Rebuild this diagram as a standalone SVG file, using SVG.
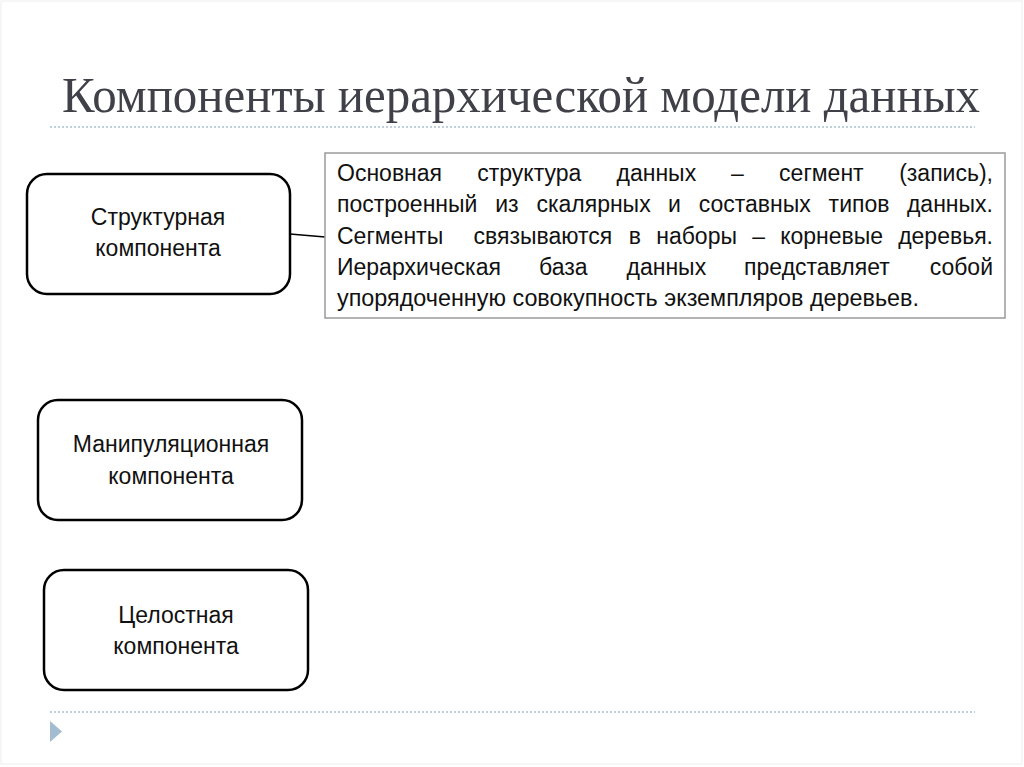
<svg xmlns="http://www.w3.org/2000/svg" width="1024" height="767" viewBox="0 0 1024 767">
<style>
.title{font-family:"Liberation Serif",serif;font-size:51px;fill:#404048}
.node rect{fill:#fff;stroke:#000;stroke-width:2.5}
.lbl{font-family:"Liberation Sans",Arial,sans-serif;font-size:23px;fill:#111;text-anchor:middle}
.body{font-family:"Liberation Sans",Arial,sans-serif;font-size:23px;fill:#111}
.end{text-anchor:end}
.dots{stroke:#a9c0d2;stroke-width:1.5;stroke-dasharray:2 2;fill:none}
</style>
<rect x="0" y="0" width="1024" height="767" fill="#fff"/>
<rect x="1" y="1" width="1021" height="763" fill="none" stroke="#eeeeee" stroke-width="1"/>
<text class="title" x="62" y="112" textLength="918" lengthAdjust="spacingAndGlyphs">Компоненты иерархической модели данных</text>
<line class="dots" x1="50" y1="127" x2="975" y2="127"/>
<line class="dots" x1="50" y1="712" x2="975" y2="712"/>
<polygon points="50,721 62,731.5 50,742" fill="#a3bcd1"/>

<g id="connectors">
<line x1="290" y1="234" x2="325" y2="237" stroke="#000" stroke-width="1.3"/>
</g>

<g id="n-struct" class="node">
<rect x="27" y="174" width="263" height="120" rx="20" ry="20"/>
<text class="lbl" x="158" y="225">Структурная</text>
<text class="lbl" x="158" y="256">компонента</text>
</g>

<g id="n-desc">
<rect x="325" y="153" width="680" height="165" fill="#fff" stroke="#9a9a9a" stroke-width="1.5"/>
<g class="body">
<text x="337" y="181">Основная</text>
<text x="477.3" y="181">структура</text>
<text x="616.5" y="181">данных</text>
<text x="731.1" y="181">–</text>
<text x="779.1" y="181">сегмент</text>
<text class="end" x="993" y="181">(запись),</text>

<text x="337" y="212">построенный</text>
<text x="495.2" y="212">из</text>
<text x="536.4" y="212">скалярных</text>
<text x="668" y="212">и</text>
<text x="698.7" y="212">составных</text>
<text x="828.6" y="212">типов</text>
<text class="end" x="993" y="212">данных.</text>

<text x="337" y="244">Сегменты</text>
<text x="473.6" y="244">связываются</text>
<text x="628.8" y="244">в</text>
<text x="656.2" y="244">наборы</text>
<text x="752.2" y="244">–</text>
<text x="780.2" y="244">корневые</text>
<text class="end" x="993" y="244">деревья.</text>

<text x="337" y="275">Иерархическая</text>
<text x="539" y="275">база</text>
<text x="626.5" y="275">данных</text>
<text x="744.1" y="275">представляет</text>
<text class="end" x="993" y="275">собой</text>

<text x="337" y="306" textLength="582" lengthAdjust="spacingAndGlyphs">упорядоченную совокупность экземпляров деревьев.</text>
</g>
</g>

<g id="n-manip" class="node">
<rect x="38" y="400" width="264" height="120" rx="20" ry="20"/>
<text class="lbl" x="171" y="452">Манипуляционная</text>
<text class="lbl" x="171" y="484">компонента</text>
</g>

<g id="n-integ" class="node">
<rect x="44" y="570" width="264" height="120" rx="20" ry="20"/>
<text class="lbl" x="176" y="623">Целостная</text>
<text class="lbl" x="176" y="654">компонента</text>
</g>
</svg>
